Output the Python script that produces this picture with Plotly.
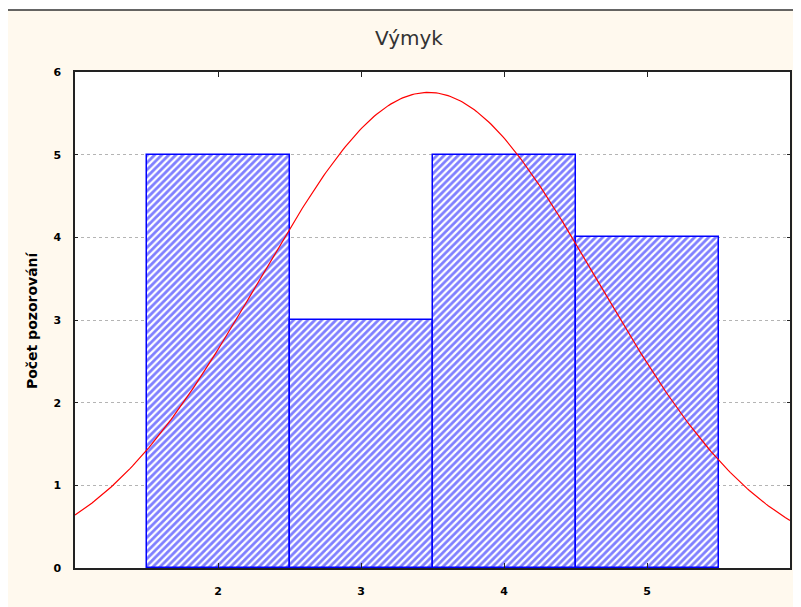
import numpy as np
import plotly.graph_objects as go

# Data
categories = [2, 3, 4, 5]
counts = [5, 3, 5, 4]
bin_width = 1.0
title_text = "Výmyk"
y_title = "Počet pozorování"
x_ticks = [2, 3, 4, 5]
y_ticks = [0, 1, 2, 3, 4, 5, 6]

# Fitted normal curve (from the histogram data)
vals = np.repeat(categories, counts).astype(float)
n = len(vals)
mu = vals.mean()
sd = vals.std(ddof=1)
xs = np.linspace(1, 6, 300)
ys = n * bin_width * np.exp(-0.5 * ((xs - mu) / sd) ** 2) / (sd * np.sqrt(2 * np.pi))

fig = go.Figure()
fig.add_trace(go.Bar(
    x=categories, y=counts, width=bin_width,
    marker=dict(color="white", line=dict(color="#0000ff", width=1.5),
                pattern=dict(shape="/", fgcolor="#0000ff", bgcolor="white", size=5, solidity=0.55)),
    showlegend=False, hoverinfo="x+y"))
fig.add_trace(go.Scatter(x=xs, y=ys, mode="lines", line=dict(color="#ff0000", width=1.2),
                         showlegend=False, hoverinfo="skip"))

OFF = 8  # page body margin
W, H = 801 - OFF, 607 - OFF
L, R, T, B = 75 - OFF, 9, 72 - OFF, 39
pw, ph = W - L - R, H - T - B
def px(x): return (x - OFF - L) / pw
def py(y): return 1 - (y - OFF - T) / ph

fig.update_layout(
    width=W, height=H,
    margin=dict(l=L, r=R, t=T, b=B, pad=0),
    paper_bgcolor="white", plot_bgcolor="white",
    bargap=0,
    font=dict(family="DejaVu Sans, sans-serif", size=11, color="black"),
    shapes=[
        dict(type="rect", xref="paper", yref="paper", x0=px(7), x1=px(830), y0=py(650), y1=py(10),
             fillcolor="#fff9ee", line=dict(color="#333333", width=1.5), layer="below"),
        dict(type="rect", xref="paper", yref="paper", x0=0, x1=1, y0=0, y1=1,
             fillcolor="white", line=dict(width=0), layer="below"),
    ],
    annotations=[
        dict(text=title_text, xref="paper", yref="paper", x=px(410), y=py(38),
             xanchor="center", yanchor="middle", showarrow=False,
             font=dict(size=20, color="#333333", family="DejaVu Sans, sans-serif")),
        dict(text="<b>" + y_title + "</b>", xref="paper", yref="paper", x=px(32), y=py(320),
             xanchor="center", yanchor="middle", showarrow=False, textangle=-90,
             font=dict(size=14, color="black", family="DejaVu Sans, sans-serif")),
    ],
)
fig.update_xaxes(range=[1, 6], tickvals=x_ticks, ticktext=["<b>%d</b>" % t for t in x_ticks],
                 showgrid=False, zeroline=False, showline=True, mirror="ticks",
                 linecolor="#222222", linewidth=1.5, ticks="inside", ticklen=5,
                 tickcolor="#222222", ticklabelstandoff=12, fixedrange=True)
fig.update_yaxes(range=[0, 6], tickvals=y_ticks, ticktext=["<b>%d</b>" % t for t in y_ticks],
                 showgrid=True, gridcolor="#b4b4b4", griddash="3px,3px", gridwidth=1,
                 zeroline=False, showline=True, mirror="ticks",
                 linecolor="#222222", linewidth=1.5, ticks="inside", ticklen=3,
                 tickcolor="#222222", ticklabelstandoff=10, fixedrange=True)

fig.write_html("out.html")
